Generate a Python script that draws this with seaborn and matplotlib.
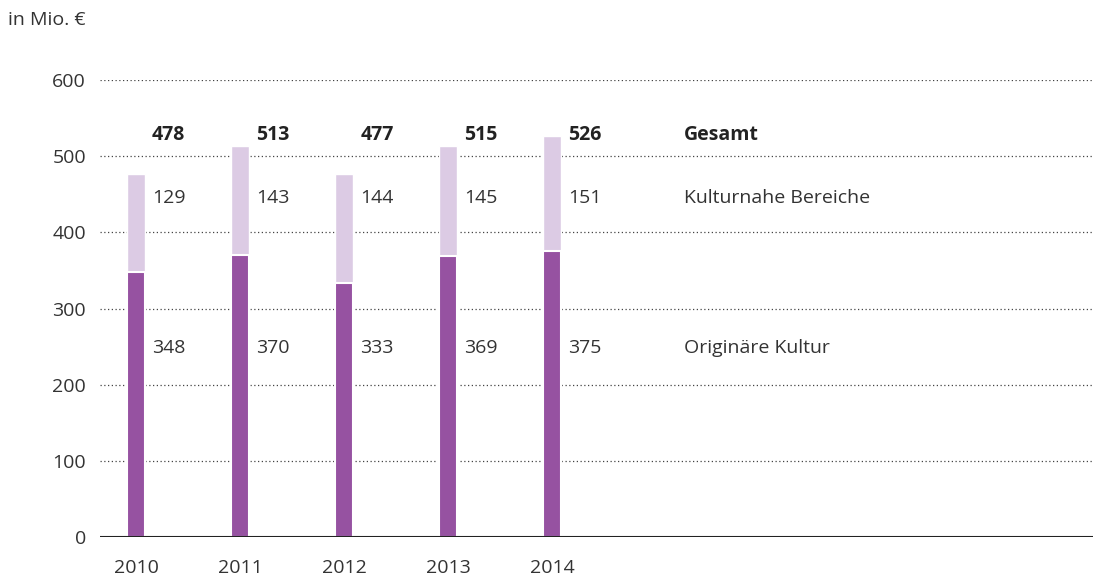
import numpy as np
import pandas as pd
import seaborn as sns
import matplotlib.pyplot as plt

years = ["2010", "2011", "2012", "2013", "2014"]
originaer = [348, 370, 333, 369, 375]
kulturnah = [129, 143, 144, 145, 151]
gesamt = [478, 513, 477, 515, 526]
row_names = ["Gesamt", "Kulturnahe Bereiche", "Originäre Kultur"]
y_ticks = [0, 100, 200, 300, 400, 500, 600]

dark = "#9652a1"
light = "#dccbe4"
text_col = "#333333"

sns.set_theme(style="white")
plt.rcParams["font.family"] = ["Open Sans", "DejaVu Sans"]

df = pd.DataFrame({"year": years, "orig": originaer, "nah": kulturnah})
df["top"] = df["orig"] + df["nah"]

fig = plt.figure(figsize=(10.94, 5.77), dpi=100)
ax = fig.add_axes([100 / 1094, 1 - 537 / 577, 993 / 1094, 457 / 577])

# dotted grid lines (not at 0)
for v in y_ticks[1:]:
    ax.axhline(v, color="#444444", linestyle=(0, (1, 2)), linewidth=0.9, zorder=0)

sns.barplot(data=df, x="year", y="top", color=light, width=0.173,
            saturation=1, ax=ax, zorder=2)
sns.barplot(data=df, x="year", y="orig", color=dark, width=0.173,
            saturation=1, ax=ax, edgecolor="white", linewidth=1.5, zorder=3)

ax.axhline(0, color="#222222", linewidth=1.5, zorder=4)

ax.set_xlim(-0.346, 9.2)
ax.set_ylim(0, 600)
ax.set_yticks(y_ticks)
ax.set_xlabel("")
ax.set_ylabel("")
for s in ax.spines.values():
    s.set_visible(False)
ax.tick_params(axis="y", length=0, pad=10, labelsize=14, labelcolor=text_col)
ax.tick_params(axis="x", length=0, pad=16, labelsize=14, labelcolor=text_col)

row_y = [528, 445, 248]
off = 0.155
for i in range(len(years)):
    ax.text(i + off, row_y[0], str(gesamt[i]), fontsize=14, fontweight="bold",
            color="#222222", va="center", ha="left")
    ax.text(i + off, row_y[1], str(kulturnah[i]), fontsize=14,
            color=text_col, va="center", ha="left")
    ax.text(i + off, row_y[2], str(originaer[i]), fontsize=14,
            color=text_col, va="center", ha="left")

ax.text(5.27, row_y[0], row_names[0], fontsize=14, fontweight="bold",
        color="#222222", va="center", ha="left")
ax.text(5.27, row_y[1], row_names[1], fontsize=14, color=text_col,
        va="center", ha="left")
ax.text(5.27, row_y[2], row_names[2], fontsize=14, color=text_col,
        va="center", ha="left")

fig.text(8 / 1094, 1 - 20 / 577, "in Mio. €", fontsize=14, color=text_col,
         va="center", ha="left")

fig.savefig("out.png", dpi=100)
